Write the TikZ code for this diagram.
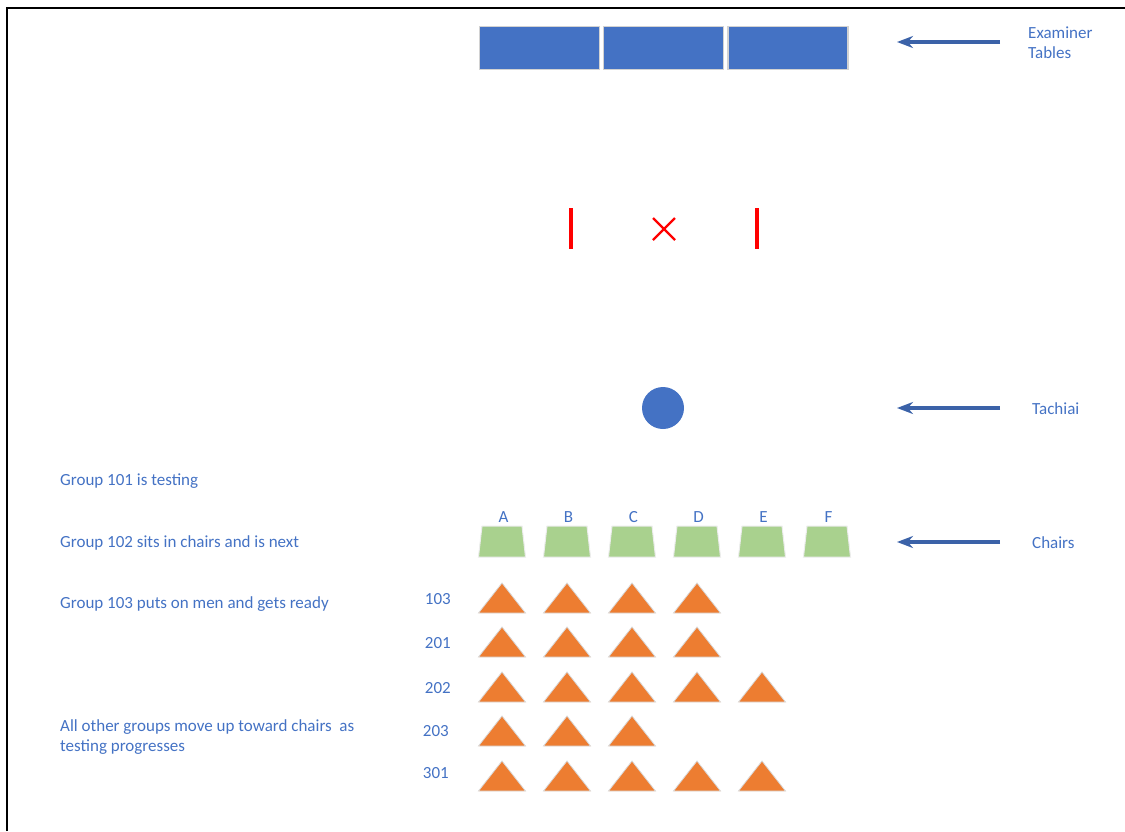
\documentclass[tikz,border=0pt]{standalone}
\usepackage{fontspec}
\setmainfont{Carlito}
\usetikzlibrary{arrows.meta}
\definecolor{txtblue}{HTML}{4472C4}
\definecolor{tableblue}{HTML}{4472C4}
\definecolor{arrowblue}{HTML}{3B62A8}
\definecolor{chairgreen}{HTML}{A9D18E}
\definecolor{kendoorange}{HTML}{ED7D31}
\tikzset{
  note/.style={font=\fontsize{17}{20}\selectfont, text=txtblue, inner sep=0pt},
  exambox/.style={rectangle, fill=tableblue, draw=gray!35, line width=1.5pt,
    minimum width=120, minimum height=43, inner sep=0pt},
  chairseat/.style={fill=chairgreen, draw=white!85!gray, line width=1pt},
  pointer/.style={arrowblue, line width=4.5pt, -{Stealth[length=16pt,width=12pt]}},
  marker/.style={red, line width=4.5pt},
  trainee/.style={fill=kendoorange, draw=gray!30, line width=0.8pt, line join=miter}
}
\begin{document}
\begin{tikzpicture}[x=1pt, y=-1pt]
    \useasboundingbox (0,0) rectangle (1125,831);
    % frame
    \draw[line width=2.2pt] (7,831) -- (7,8) -- (1125,8);

    % examiner tables
    \node[exambox] (tabL) at (539.5,48) {};
    \node[exambox] (tabM) at (663.5,48) {};
    \node[exambox] (tabR) at (788,48) {};

    % shiai-jo
    \draw[marker] (571,208) -- (571,249);
    \draw[marker] (757,208) -- (757,249);
    \draw[red, line width=2.4pt] (653,218) -- (675,240) (653,240) -- (675,218);
    \node[circle, fill=tableblue, minimum size=42, inner sep=0pt] (tachiai) at (663,408) {};

    % chairs
    \foreach \c [count=\k] in {A,B,C,D,E,F} {
        \pgfmathsetmacro{\cx}{502+65*(\k-1)}
        \filldraw[chairseat] (\cx-23.5,557) -- (\cx+23.5,557) -- (\cx+20,526) -- (\cx-20,526) -- cycle;
        \node[note] (chair\c) at (\cx+1.5,517) {\c};
    }

    % waiting groups
    \foreach \grp/\yy/\ly/\lx/\cnt in {103/598/599/451/4, 201/642/643/451/4, 202/687/688/451/5, 203/731/731/449/3, 301/776/773/449/5} {
        \node[note, anchor=east] (row\grp) at (\lx,\ly) {\grp};
        \foreach \k in {1,...,\cnt} {
            \filldraw[trainee] ({502+65*(\k-1)-23.5},\yy+15) -- ({502+65*(\k-1)+23.5},\yy+15)
                -- ({502+65*(\k-1)},\yy-15) -- cycle;
        }
    }

    % labels right
    \node[note, anchor=west, align=left] (lblTables) at (1028,43) {Examiner\\Tables};
    \node[note, anchor=west] (lblTachiai) at (1032,409) {Tachiai};
    \node[note, anchor=west] (lblChairs) at (1032,543) {Chairs};
    \coordinate (tipTables) at (897,42);
    \coordinate (tipTachiai) at (897,408);
    \coordinate (tipChairs) at (897,542);
    \draw[pointer, shorten <=28pt] (lblTables.west |- tipTables) -- (tipTables);
    \draw[pointer, shorten <=32pt] (lblTachiai.west |- tipTachiai) -- (tipTachiai);
    \draw[pointer, shorten <=32pt] (lblChairs.west |- tipChairs) -- (tipChairs);

    % labels left
    \node[note, anchor=west] (grp101) at (60,481) {Group 101 is testing};
    \node[note, anchor=west] (grp102) at (60,543) {Group 102 sits in chairs and is next};
    \node[note, anchor=west] (grp103) at (60,604) {Group 103 puts on men and gets ready};
    \node[note, anchor=west, align=left] (grpRest) at (60,737) {All other groups move up toward chairs~ as\\testing progresses};
\end{tikzpicture}
\end{document}
